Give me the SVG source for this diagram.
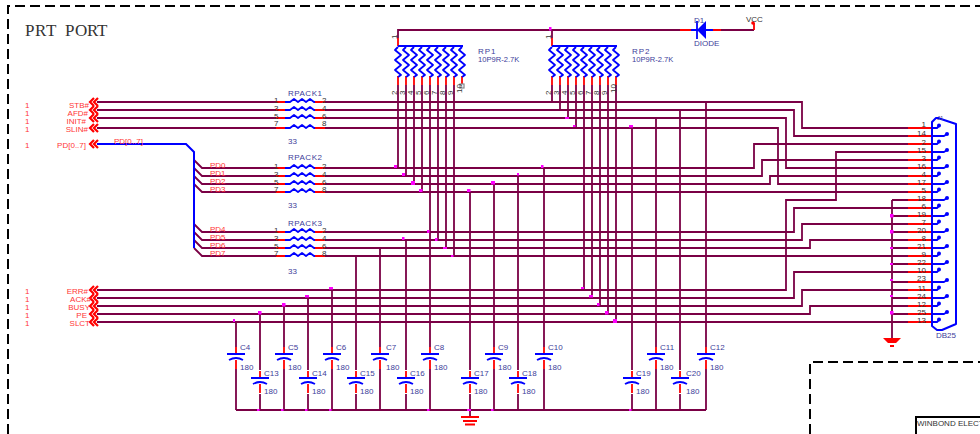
<svg xmlns="http://www.w3.org/2000/svg" xmlns:xlink="http://www.w3.org/1999/xlink" width="980" height="434" viewBox="0 0 980 434">
<style>
text{font-family:"Liberation Sans",Arial,sans-serif;font-size:8px}
.w{fill:none;stroke:#7a0045;stroke-width:1.800}
.r{fill:none;stroke:#ff0000;stroke-width:1.800}
.b{fill:none;stroke:#0000ff;stroke-width:1.800;stroke-linejoin:round}
.f{fill:none;stroke:#000;stroke-width:2;stroke-dasharray:10 5}
.lab{fill:#40409a}
.red{fill:#ff3636}
.num{fill:#333}
.e{text-anchor:end}
.j{fill:#ff00ff}
.ch{fill:none;stroke:#ff0000;stroke-width:2.200}
</style>
<defs>
<path id="zv" class="b" d="M0 0l-3 3l6 5l-6 5l6 5l-6 5l6 5l-3 2"/>
<g id="rh"><path class="r" d="M-9 0h9M30 0h10"/><path class="b" d="M0 0h5l4-3l4 3l4-3l4 3l4-3l4 3h1"/></g>
<g id="capU"><path class="r" d="M0-7v7M0 6v9"/><path class="b" d="M-9 0h18M-7 6q7-4 14 0"/></g>
<g id="chev"><path class="ch" d="M94-4l-4 4l4 4M98-4l-4 4l4 4"/></g>
<g id="sa"><path class="b" d="M0 0h5l2-2"/><circle cx="7" cy="-2.500" r="2" fill="#0000ff"/></g>
<g id="sb"><path class="b" d="M0 0h12l3-2"/><circle cx="15" cy="-2" r="2" fill="#0000ff"/></g>
</defs>

<g id="frame">
<path class="f" d="M8 434V6H980"/>
<path class="f" d="M810 434V362H980"/>
<path d="M916 434V417H980" fill="none" stroke="#000" stroke-width="2"/>
<text x="917" y="426" fill="#333">WINBOND ELECT</text>
<text x="25 35 46 56 65 75 87 97" y="36" style="font-family:'Liberation Serif',serif;font-size:17px" fill="#333">PRT PORT</text>
</g>

<g id="connectors">
<path class="w" d="M97 102H276M325 102H802V128H908M97 110H276M325 110H794V136H908M97 118H276M325 118H786V168H908M97 128H276M325 128H778V184H908"/>
<path class="w" d="M194 160l8 8H276M325 168H754V144H908M194 168l8 8H276M325 176H762V160H908M194 176l8 8H276M325 184H770V176H908M194 184l8 8H276M325 192H908"/>
<path class="w" d="M194 224l8 8H276M325 232H794V208H908M194 232l8 8H276M325 240H802V224H908M194 240l8 8H276M325 248H810V240H908M194 248l8 8H276M325 256H908"/>
<path class="w" d="M97 290H786V200H836V152H908M97 298H794V272H908M97 306H802V290H908M97 314H810V306H908M97 322H908"/>
<path class="w" d="M892 200H908M892 216H908M892 232H908M892 248H908M892 264H908M892 282H908M892 298H908M892 314H908M892 200V338"/>
<path class="w" d="M398 85V168M406 85V176M414 85V184M422 85V192M430 85V347M438 85V240M446 85V248M454 85V256"/>
<path class="w" d="M552 85V102M560 85V110M568 85V118M576 85V128M584 85V290M592 85V298M600 85V306M608 85V314M616 85V322"/>
<path class="w" d="M398 38V30H680M552 30V38M721 30H754"/>
<path class="r" d="M398 38V46M552 38V46M680 30H691M713 30H721M754 30V23M462 76V84"/>
<path class="r" d="M908 128H932M908 136H932M908 144H932M908 152H932M908 160H932M908 168H932M908 176H932M908 184H932M908 192H932M908 200H932M908 208H932M908 216H932M908 224H932M908 232H932M908 240H932M908 248H932M908 256H932M908 264H932M908 272H932M908 282H932M908 290H932M908 298H932M908 306H932M908 314H932M908 322H932"/>
<path class="r" d="M398 76V85M406 76V85M414 76V85M422 76V85M430 76V85M438 76V85M446 76V85M454 76V85M552 76V85M560 76V85M568 76V85M576 76V85M584 76V85M592 76V85M600 76V85M608 76V85M616 76V85"/>
<path class="w" d="M236 322V347M236 369V410M260 314V370M260 394V410M284 306V347M284 369V410M308 298V370M308 394V410M332 290V347M332 369V410M356 256V370M356 394V410M380 248V347M380 369V410M406 240V370M406 394V410M430 369V410M470 192V370M470 394V417M494 184V347M494 369V410M518 176V370M518 394V410M544 168V347M544 369V410M632 128V370M632 394V410M656 118V347M656 369V410M680 110V370M680 394V410M706 102V347M706 369V410M236 410H706"/>
<path fill="none" stroke="#0000ff" stroke-width="2" d="M97 144H186L194 152V248"/>
<g class="j">
<rect x="394" y="165" width="3" height="3"/><rect x="402" y="173" width="3" height="3"/><rect x="411" y="181" width="4" height="4"/><rect x="419" y="189" width="3.500" height="3"/><rect x="467" y="189" width="3.500" height="3"/><rect x="491" y="181" width="4" height="3.500"/><rect x="517" y="173" width="2" height="2.500"/><rect x="541" y="165" width="2.500" height="3"/><rect x="549" y="27" width="2.500" height="3.500"/><rect x="565" y="117" width="4" height="2"/><rect x="573" y="125" width="2.500" height="2"/><rect x="629" y="125" width="4" height="2.500"/>
<rect x="427" y="230" width="2.500" height="3"/><rect x="402" y="237" width="2.500" height="3"/><rect x="435" y="238" width="2.500" height="3"/><rect x="443" y="247" width="4" height="2"/><rect x="451" y="255" width="2.500" height="2"/><rect x="581" y="287" width="3" height="2"/><rect x="589" y="295" width="4" height="2.500"/><rect x="597" y="303" width="2.500" height="3"/><rect x="605" y="311" width="3.500" height="3.500"/><rect x="613" y="319" width="4" height="4"/>
<rect x="233" y="319" width="2" height="3"/><rect x="258" y="311" width="3.500" height="3.500"/><rect x="282" y="303" width="3.500" height="3.500"/><rect x="305" y="295" width="4" height="2.500"/><rect x="329" y="287" width="4" height="2.500"/>
<rect x="257" y="409" width="2.500" height="2"/><rect x="281" y="409" width="2.500" height="2"/><rect x="305" y="409" width="2.500" height="2"/><rect x="329" y="409" width="2.500" height="2"/><rect x="427" y="409" width="2.500" height="2"/><rect x="467" y="409" width="4" height="2"/><rect x="491" y="409" width="2.500" height="2"/><rect x="629" y="409" width="2.500" height="2"/>
<rect x="890" y="214" width="3.500" height="3.500"/><rect x="890" y="230" width="3.500" height="3.500"/><rect x="890" y="247" width="3" height="2"/><rect x="890" y="263" width="3" height="2"/><rect x="890" y="279" width="3" height="2"/><rect x="890" y="295" width="3" height="2"/><rect x="890" y="311" width="3.500" height="3.500"/>
</g>
</g>

<g id="ports" >
<use xlink:href="#chev" href="#chev" y="102"/><use xlink:href="#chev" href="#chev" y="110"/><use xlink:href="#chev" href="#chev" y="118"/><use xlink:href="#chev" href="#chev" y="128"/><use xlink:href="#chev" href="#chev" y="144"/>
<use xlink:href="#chev" href="#chev" y="290"/><use xlink:href="#chev" href="#chev" y="298"/><use xlink:href="#chev" href="#chev" y="306"/><use xlink:href="#chev" href="#chev" y="314"/><use xlink:href="#chev" href="#chev" y="322"/>
<g class="red">
<text x="25" y="108">1</text><text x="25" y="116">1</text><text x="25" y="124">1</text><text x="25" y="132">1</text><text x="25" y="148">1</text>
<text x="25" y="294">1</text><text x="25" y="302">1</text><text x="25" y="310">1</text><text x="25" y="318">1</text><text x="25" y="326">1</text>
<text x="89" y="108" class="e">STB#</text><text x="88" y="116" class="e">AFD#</text><text x="86" y="124" class="e">INIT#</text><text x="88" y="132" class="e">SLIN#</text><text x="86" y="148" class="e">PD[0..7]</text>
<text x="88" y="294" class="e">ERR#</text><text x="91" y="302" class="e">ACK#</text><text x="90" y="310" class="e">BUSY</text><text x="87" y="318" class="e">PE</text><text x="90" y="326" class="e">SLCT</text>
<text x="114" y="144">PD[0..7]</text>
<text x="210" y="168">PD0</text><text x="210" y="176">PD1</text><text x="210" y="184">PD2</text><text x="210" y="192">PD3</text>
<text x="210" y="232">PD4</text><text x="210" y="240">PD5</text><text x="210" y="248">PD6</text><text x="210" y="256">PD7</text>
</g>
</g>

<g id="RPACK1">
<use href="#rh" x="285" y="102"/><use href="#rh" x="285" y="110"/><use href="#rh" x="285" y="118"/><use href="#rh" x="285" y="128"/>
<text x="288" y="96" class="lab" letter-spacing=".5">RPACK1</text><text x="288" y="144" class="lab">33</text>
<g class="num"><text x="274" y="103">1</text><text x="274" y="111">3</text><text x="274" y="119">5</text><text x="274" y="126">7</text><text x="322" y="103">2</text><text x="322" y="111">4</text><text x="322" y="119">6</text><text x="322" y="126">8</text></g>
</g>
<g id="RPACK2">
<use href="#rh" x="285" y="168"/><use href="#rh" x="285" y="176"/><use href="#rh" x="285" y="184"/><use href="#rh" x="285" y="192"/>
<text x="288" y="160" class="lab" letter-spacing=".5">RPACK2</text><text x="288" y="208" class="lab">33</text>
<g class="num"><text x="274" y="169">1</text><text x="274" y="177">3</text><text x="274" y="185">5</text><text x="274" y="192">7</text><text x="322" y="169">2</text><text x="322" y="177">4</text><text x="322" y="185">6</text><text x="322" y="192">8</text></g>
</g>
<g id="RPACK3">
<use href="#rh" x="285" y="232"/><use href="#rh" x="285" y="240"/><use href="#rh" x="285" y="248"/><use href="#rh" x="285" y="256"/>
<text x="288" y="226" class="lab" letter-spacing=".5">RPACK3</text><text x="288" y="274" class="lab">33</text>
<g class="num"><text x="274" y="233">1</text><text x="274" y="241">3</text><text x="274" y="249">5</text><text x="274" y="256">7</text><text x="322" y="233">2</text><text x="322" y="241">4</text><text x="322" y="249">6</text><text x="322" y="256">8</text></g>
</g>

<g id="RP1">
<path class="b" d="M398 46H463"/>
<use href="#zv" x="398" y="47"/><use href="#zv" x="406" y="47"/><use href="#zv" x="414" y="47"/><use href="#zv" x="422" y="47"/><use href="#zv" x="430" y="47"/><use href="#zv" x="438" y="47"/><use href="#zv" x="446" y="47"/><use href="#zv" x="454" y="47"/><use href="#zv" x="462" y="47"/>
<rect x="460" y="84" width="4" height="4" fill="none" stroke="#888" stroke-width="1.200"/>
<text x="478" y="54" class="lab" letter-spacing="1">RP1</text><text x="478" y="62" class="lab" style="font-size:7.600px">10P9R-2.7K</text>
<g class="num">
<text transform="translate(397,39) rotate(-90)">1</text>
<text transform="translate(397,95) rotate(-90)">2</text><text transform="translate(405,95) rotate(-90)">3</text><text transform="translate(413,95) rotate(-90)">4</text><text transform="translate(421,95) rotate(-90)">5</text><text transform="translate(429,95) rotate(-90)">6</text><text transform="translate(437,95) rotate(-90)">7</text><text transform="translate(445,95) rotate(-90)">8</text><text transform="translate(453,95) rotate(-90)">9</text><text transform="translate(462,93) rotate(-90)">10</text>
</g>
</g>
<g id="RP2">
<path class="b" d="M552 46H617"/>
<use href="#zv" x="552" y="47"/><use href="#zv" x="560" y="47"/><use href="#zv" x="568" y="47"/><use href="#zv" x="576" y="47"/><use href="#zv" x="584" y="47"/><use href="#zv" x="592" y="47"/><use href="#zv" x="600" y="47"/><use href="#zv" x="608" y="47"/><use href="#zv" x="616" y="47"/>
<text x="632" y="54" class="lab" letter-spacing="1">RP2</text><text x="632" y="62" class="lab" style="font-size:7.600px">10P9R-2.7K</text>
<g class="num">
<text transform="translate(551,39) rotate(-90)">1</text>
<text transform="translate(551,95) rotate(-90)">2</text><text transform="translate(559,95) rotate(-90)">3</text><text transform="translate(567,95) rotate(-90)">4</text><text transform="translate(575,95) rotate(-90)">5</text><text transform="translate(583,95) rotate(-90)">6</text><text transform="translate(591,95) rotate(-90)">7</text><text transform="translate(599,95) rotate(-90)">8</text><text transform="translate(607,95) rotate(-90)">9</text><text transform="translate(616,93) rotate(-90)">10</text>
</g>
</g>

<g id="D1">
<path class="b" d="M691 30H713M697 21V39"/>
<path d="M697 30L706 21V39Z" fill="#0000ff"/>
<text x="694" y="23" class="lab">D1</text><text x="694" y="46" class="lab">DIODE</text>
</g>
<g id="VCC">
<circle cx="753" cy="23" r="1.800" fill="#ff0000"/>
<text x="746" y="22" class="num">VCC</text>
</g>

<g id="J1">
<path fill="none" stroke="#0000ff" stroke-width="2" stroke-linejoin="round" d="M932 122L936 118H938L956 124V324L942 330H937L932 326V122Z"/>
<use href="#sa" x="932" y="128"/><use href="#sb" x="932" y="136"/><use href="#sa" x="932" y="144"/><use href="#sb" x="932" y="152"/><use href="#sa" x="932" y="160"/><use href="#sb" x="932" y="168"/><use href="#sa" x="932" y="176"/><use href="#sb" x="932" y="184"/><use href="#sa" x="932" y="192"/><use href="#sb" x="932" y="200"/><use href="#sa" x="932" y="208"/><use href="#sb" x="932" y="216"/><use href="#sa" x="932" y="224"/><use href="#sb" x="932" y="232"/><use href="#sa" x="932" y="240"/><use href="#sb" x="932" y="248"/><use href="#sa" x="932" y="256"/><use href="#sb" x="932" y="264"/><use href="#sa" x="932" y="272"/><use href="#sb" x="932" y="282"/><use href="#sa" x="932" y="290"/><use href="#sb" x="932" y="298"/><use href="#sa" x="932" y="306"/><use href="#sb" x="932" y="314"/><use href="#sa" x="932" y="322"/>
<text x="937" y="120" class="lab" style="font-size:6px">J1</text>
<text x="936" y="338" class="lab">DB25</text>
<g class="num e">
<text x="926" y="127">1</text><text x="926" y="136">14</text><text x="926" y="145">2</text><text x="926" y="153">15</text><text x="926" y="161">3</text><text x="926" y="169">16</text><text x="926" y="177">4</text><text x="926" y="185">17</text><text x="926" y="193">5</text><text x="926" y="201">18</text><text x="926" y="209">6</text><text x="926" y="217">19</text><text x="926" y="225">7</text><text x="926" y="233">20</text><text x="926" y="241">8</text><text x="926" y="249">21</text><text x="926" y="257">9</text><text x="926" y="265">22</text><text x="926" y="273">10</text><text x="926" y="281">23</text><text x="926" y="291">11</text><text x="926" y="299">24</text><text x="926" y="307">12</text><text x="926" y="315">25</text><text x="926" y="323">13</text>
</g>
</g>

<g id="GND1"><path d="M461 417h18M463 421h14M465 424.500h10" fill="none" stroke="#ff0000" stroke-width="2"/></g>
<g id="GND2"><path d="M883 338h18l-5 5h-8zM890 345h4v2h-4z" fill="#ff0000"/></g>

<g id="C4"><use href="#capU" x="236" y="354"/><text x="240" y="350" class="lab">C4</text><text x="240" y="370" class="lab">180</text></g>
<g id="C5"><use href="#capU" x="284" y="354"/><text x="288" y="350" class="lab">C5</text><text x="288" y="370" class="lab">180</text></g>
<g id="C6"><use href="#capU" x="332" y="354"/><text x="336" y="350" class="lab">C6</text><text x="336" y="370" class="lab">180</text></g>
<g id="C7"><use href="#capU" x="380" y="354"/><text x="386" y="350" class="lab">C7</text><text x="386" y="370" class="lab">180</text></g>
<g id="C8"><use href="#capU" x="430" y="354"/><text x="434" y="350" class="lab">C8</text><text x="434" y="370" class="lab">180</text></g>
<g id="C9"><use href="#capU" x="494" y="354"/><text x="498" y="350" class="lab">C9</text><text x="498" y="370" class="lab">180</text></g>
<g id="C10"><use href="#capU" x="544" y="354"/><text x="548" y="350" class="lab">C10</text><text x="548" y="370" class="lab">180</text></g>
<g id="C11"><use href="#capU" x="656" y="354"/><text x="660" y="350" class="lab">C11</text><text x="660" y="370" class="lab">180</text></g>
<g id="C12"><use href="#capU" x="706" y="354"/><text x="710" y="350" class="lab">C12</text><text x="710" y="370" class="lab">180</text></g>
<g id="C13"><use href="#capU" x="260" y="378"/><text x="264" y="376" class="lab">C13</text><text x="264" y="394" class="lab">180</text></g>
<g id="C14"><use href="#capU" x="308" y="378"/><text x="312" y="376" class="lab">C14</text><text x="312" y="394" class="lab">180</text></g>
<g id="C15"><use href="#capU" x="356" y="378"/><text x="360" y="376" class="lab">C15</text><text x="360" y="394" class="lab">180</text></g>
<g id="C16"><use href="#capU" x="406" y="378"/><text x="410" y="376" class="lab">C16</text><text x="410" y="394" class="lab">180</text></g>
<g id="C17"><use href="#capU" x="470" y="378"/><text x="474" y="376" class="lab">C17</text><text x="474" y="394" class="lab">180</text></g>
<g id="C18"><use href="#capU" x="518" y="378"/><text x="522" y="376" class="lab">C18</text><text x="522" y="394" class="lab">180</text></g>
<g id="C19"><use href="#capU" x="632" y="378"/><text x="636" y="376" class="lab">C19</text><text x="636" y="394" class="lab">180</text></g>
<g id="C20"><use href="#capU" x="680" y="378"/><text x="686" y="376" class="lab">C20</text><text x="686" y="394" class="lab">180</text></g>
</svg>
